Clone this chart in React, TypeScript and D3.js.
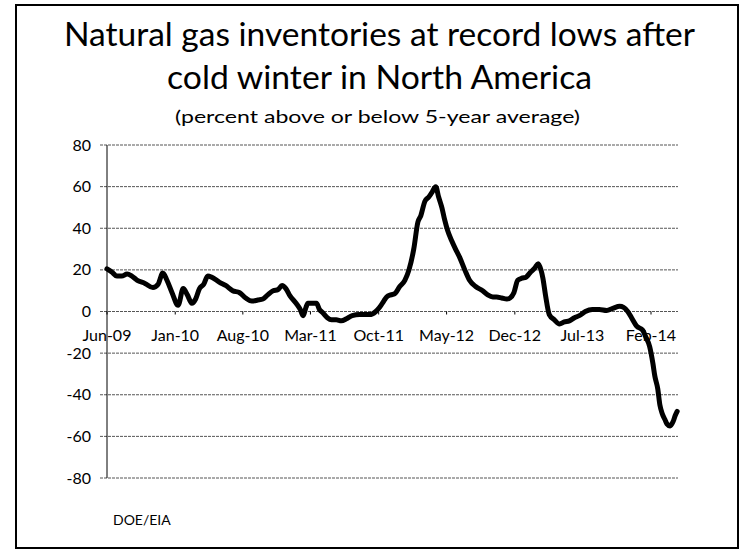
import React from "react";
import * as d3 from "d3";

const titleLines = [
  "Natural gas inventories at record lows after",
  "cold winter in North America",
];
const subtitle = "(percent above or below 5-year average)";
const source = "DOE/EIA";

const yTicks = [80, 60, 40, 20, 0, -20, -40, -60, -80];
const xTickLabels = ["Jun-09", "Jan-10", "Aug-10", "Mar-11", "Oct-11", "May-12", "Dec-12", "Jul-13", "Feb-14"];
const xTickDates = ["2009-06-01", "2010-01-01", "2010-08-01", "2011-03-01", "2011-10-01", "2012-05-01", "2012-12-01", "2013-07-01", "2014-02-01"];

const dates = [
  "2009-06-01", "2009-06-16", "2009-07-02", "2009-07-17", "2009-08-03", "2009-08-18", "2009-09-04", "2009-09-28",
  "2009-10-23", "2009-11-08", "2009-11-23", "2009-12-06", "2009-12-22", "2010-01-10", "2010-01-26", "2010-02-08",
  "2010-02-22", "2010-03-06", "2010-03-18", "2010-03-31", "2010-04-13", "2010-04-25", "2010-05-20", "2010-06-08",
  "2010-06-30", "2010-07-22", "2010-08-10", "2010-08-29", "2010-09-17", "2010-10-03", "2010-10-18", "2010-11-04",
  "2010-11-19", "2010-12-02", "2010-12-14", "2010-12-27", "2011-01-15", "2011-01-28", "2011-02-06", "2011-02-15",
  "2011-02-21", "2011-03-07", "2011-03-20", "2011-03-29", "2011-04-08", "2011-04-23", "2011-05-06", "2011-05-21",
  "2011-06-06", "2011-06-22", "2011-07-10", "2011-08-02", "2011-08-21", "2011-09-03", "2011-09-22", "2011-10-04",
  "2011-10-17", "2011-10-26", "2011-11-08", "2011-11-20", "2011-12-06", "2011-12-22", "2012-01-04", "2012-01-19",
  "2012-02-01", "2012-02-10", "2012-02-23", "2012-03-06", "2012-03-15", "2012-03-28", "2012-04-06", "2012-04-16",
  "2012-04-25", "2012-05-04", "2012-05-17", "2012-05-29", "2012-06-11", "2012-06-27", "2012-07-12", "2012-07-31",
  "2012-08-22", "2012-09-07", "2012-09-23", "2012-10-05", "2012-10-21", "2012-11-06", "2012-11-16", "2012-11-28",
  "2012-12-10", "2012-12-23", "2013-01-05", "2013-01-17", "2013-02-02", "2013-02-12", "2013-02-21", "2013-02-27",
  "2013-03-07", "2013-03-19", "2013-04-04", "2013-04-20", "2013-05-05", "2013-05-21", "2013-06-06", "2013-06-21",
  "2013-07-10", "2013-08-01", "2013-08-23", "2013-09-15", "2013-10-04", "2013-10-26", "2013-11-07", "2013-11-20",
  "2013-12-02", "2013-12-18", "2014-01-06", "2014-01-15", "2014-01-28", "2014-02-07", "2014-02-13", "2014-02-22",
  "2014-03-01", "2014-03-08", "2014-03-17", "2014-03-23", "2014-04-02", "2014-04-11", "2014-04-18", "2014-04-24",
];
const values = [
  20.5, 19, 17, 17, 18, 17, 15, 13.5,
  11.5, 13, 18.5, 15, 9, 3, 11, 8,
  4, 6, 11, 13, 17, 16.5, 14, 12.5,
  10, 9, 6.5, 5, 5.5, 6, 8, 10,
  10.5, 12.5, 11, 7.5, 4, 1, -2, 2,
  4, 4, 4, 1, -0.5, -3, -4, -4,
  -4.5, -3.5, -2, -1.5, -1.5, -1.5, 0, 2,
  5, 7, 8, 8.5, 12, 15, 20, 30,
  43, 46, 53, 55, 57, 60, 55, 50,
  44, 39, 34, 30, 26, 20, 15, 12,
  10, 8, 7, 7, 6.5, 6, 6.5, 9,
  15, 16, 16.5, 18.5, 21, 23, 20, 16,
  8, -1.5, -4, -6, -5, -4.5, -3, -2,
  0, 1, 1, 0.5, 1.5, 2.5, 2, 0,
  -3, -7, -9, -12, -17, -25, -31, -37,
  -45, -49, -52, -54, -55, -53, -50, -48,
];

export default function App() {
  const W = 743, H = 552;
  const parse = d3.timeParse("%Y-%m-%d");
  const x = d3.scaleTime()
    .domain([parse("2009-06-01")!, parse("2014-02-01")!])
    .range([107, 651]);
  const y = d3.scaleLinear().domain([-80, 80]).range([478, 145]);
  const plotRight = 678;
  const data = dates.map((d, i) => ({ d: parse(d)!, v: values[i] }));
  const line = d3.line<{ d: Date; v: number }>()
    .x((p) => x(p.d))
    .y((p) => y(p.v))
    .curve(d3.curveMonotoneX);
  const font = "Lato, 'Open Sans', sans-serif";
  return (
    <svg width={W} height={H} style={{ position: "absolute", left: 0, top: 0, background: "#fff" }}>
      <rect x={0} y={0} width={W} height={H} fill="#fff" />
      <rect x={16} y={5} width={722} height={543} fill="none" stroke="#000" strokeWidth={2} />
      <text x={379.5} y={46} textAnchor="middle" fontFamily={font} fontSize={32} textLength={631} lengthAdjust="spacingAndGlyphs" fill="#000">{titleLines[0]}</text>
      <text x={379.5} y={89} textAnchor="middle" fontFamily={font} fontSize={32} textLength={425} lengthAdjust="spacingAndGlyphs" fill="#000">{titleLines[1]}</text>
      <text x={377.5} y={123} textAnchor="middle" fontFamily={font} fontSize={18} textLength={405} lengthAdjust="spacingAndGlyphs" fill="#000">{subtitle}</text>
      {yTicks.map((t) => (
        <g key={t}>
          <line x1={100} x2={plotRight} y1={y(t)} y2={y(t)} stroke="#555" strokeWidth={1} strokeDasharray="3,1" />
          <text x={91} y={y(t)} dy="0.35em" textAnchor="end" fontFamily={font} fontSize={16} fill="#000">{t}</text>
        </g>
      ))}
      <line x1={x(parse("2009-06-01")!)} x2={x(parse("2009-06-01")!)} y1={y(80)} y2={y(-80)} stroke="#000" strokeWidth={1} />
      {xTickDates.map((d, i) => (
        <g key={d}>
          <line x1={x(parse(d)!)} x2={x(parse(d)!)} y1={y(0)} y2={y(0) + 3} stroke="#000" strokeWidth={1} />
          <text x={x(parse(d)!)} y={y(0) + 29} textAnchor="middle" fontFamily={font} fontSize={16} fill="#000">{xTickLabels[i]}</text>
        </g>
      ))}
      <path d={line(data) || ""} fill="none" stroke="#000" strokeWidth={5} strokeLinejoin="round" strokeLinecap="round" />
      <text x={113} y={525} fontFamily={font} fontSize={14} fill="#000">{source}</text>
    </svg>
  );
}
